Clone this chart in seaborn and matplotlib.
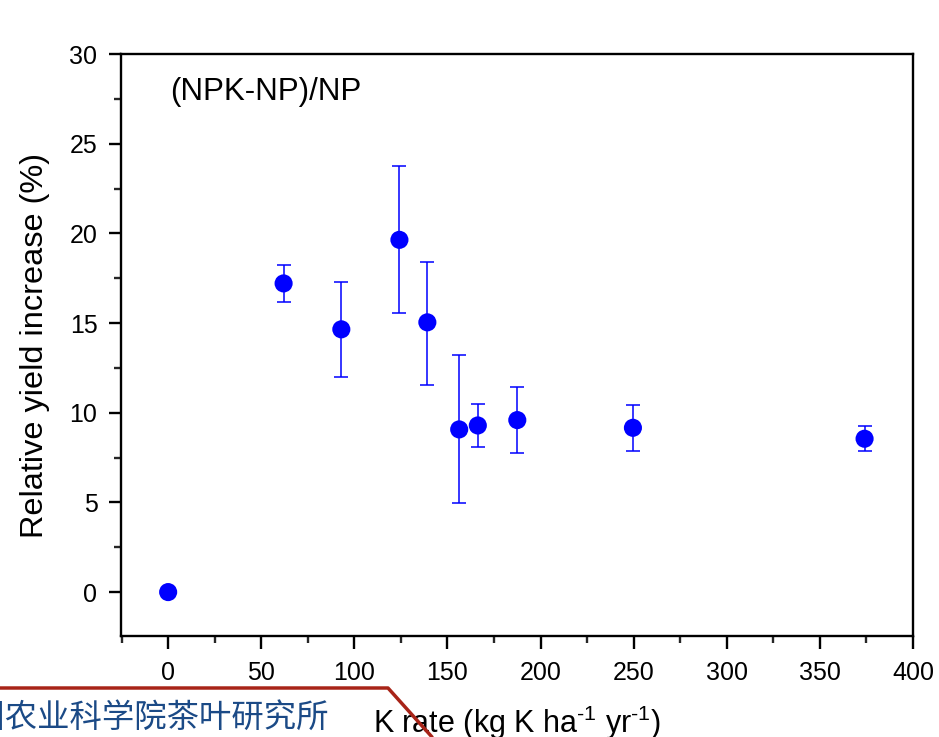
import matplotlib
matplotlib.use("Agg")
import matplotlib.pyplot as plt
from matplotlib.lines import Line2D
from matplotlib.ticker import MultipleLocator
import seaborn as sns
import pandas as pd

# data
k_rate = [0, 62.0, 93.0, 124.2, 139.2, 156.3, 166.3, 187.5, 249.6, 374.0]
yield_inc = [0, 17.21, 14.65, 19.64, 15.04, 9.07, 9.29, 9.59, 9.16, 8.55]
err_top = [0, 18.25, 17.30, 23.76, 18.42, 13.22, 10.48, 11.41, 10.45, 9.26]
err_bottom = [0, 16.19, 11.99, 15.54, 11.57, 4.94, 8.07, 7.75, 7.86, 7.86]

df = pd.DataFrame({"k": k_rate, "y": yield_inc})
lower = [y - b for y, b in zip(yield_inc, err_bottom)]
upper = [t - y for y, t in zip(yield_inc, err_top)]

sns.set_style("ticks")
plt.rcParams['font.family'] = ['Liberation Sans', 'DejaVu Sans']
plt.rcParams['mathtext.fontset'] = 'custom'
plt.rcParams['mathtext.rm'] = 'Liberation Sans'
plt.rcParams['text.color'] = 'black'
plt.rcParams['axes.labelcolor'] = 'black'

fig = plt.figure(figsize=(9.39, 7.37), dpi=100)
ax = fig.add_axes([0.1289, 0.137, 0.8434, 0.7897])

ax.errorbar(df["k"], df["y"], yerr=[lower, upper], fmt='none', ecolor='#0000ff',
            elinewidth=1.1, capsize=5, capthick=1.1, zorder=2)
sns.scatterplot(data=df, x="k", y="y", color='#0000ff', s=170, edgecolor='none',
                zorder=3, ax=ax)

ax.set_xlim(-25.3, 400)
ax.set_ylim(-2.45, 30)
ax.xaxis.set_major_locator(MultipleLocator(50))
ax.xaxis.set_minor_locator(MultipleLocator(25))
ax.yaxis.set_major_locator(MultipleLocator(5))
ax.yaxis.set_minor_locator(MultipleLocator(2.5))
ax.tick_params(which='major', direction='out', length=9, width=1.7, labelsize=18, colors='black')
ax.tick_params(axis='y', which='major', pad=8)
ax.tick_params(axis='x', which='major', pad=9)
ax.tick_params(which='minor', direction='out', length=5, width=1.7)
for s in ax.spines.values():
    s.set_linewidth(1.7)
    s.set_color('black')

ax.set_xlabel(r"K rate (kg K ha$^{\text{-}1}$ yr$^{\text{-}1}$)", fontsize=22)
ax.set_ylabel("Relative yield increase (%)", fontsize=23.4)
ax.xaxis.set_label_coords(0.5, -0.116)
ax.yaxis.set_label_coords(-0.0896, 0.5)
ax.text(0.062, 0.935, "(NPK-NP)/NP", transform=ax.transAxes, fontsize=22.5, va='center', ha='left')

# banner in lower left corner
fig.add_artist(Line2D([0, 388 / 939, 432 / 939], [1 - 688 / 737, 1 - 688 / 737, 0],
                      transform=fig.transFigure, color='#a82418', lw=2.5))
fig.text(329 / 939, 1 - 718 / 737, "中国农业科学院茶叶研究所", fontsize=23.3, color='#1b4a86',
         family=['Noto Sans CJK SC', 'DejaVu Sans'], va='center', ha='right')

fig.savefig("out.png", dpi=100)
